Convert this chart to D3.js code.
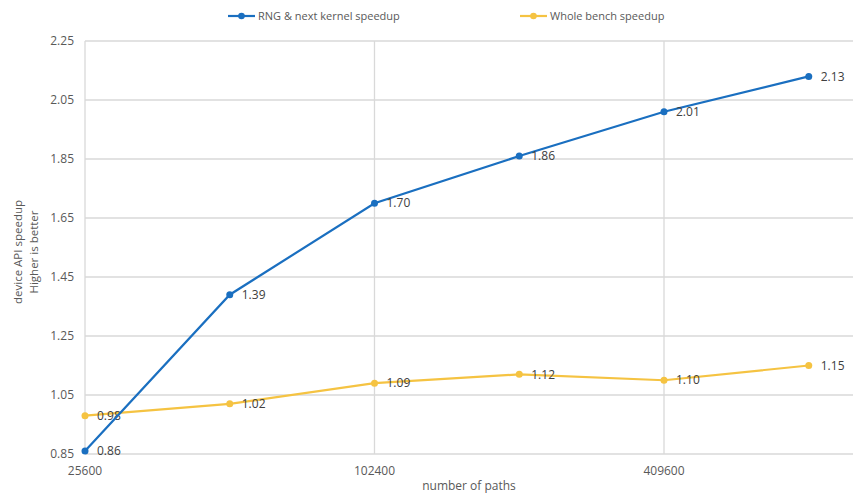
<!DOCTYPE html>
<html><head><meta charset="utf-8">
<script src="https://cdn.jsdelivr.net/npm/d3@7"></script>
<style>body{margin:0;background:#fff}svg{display:block}</style>
</head><body>
<svg id="c" width="854" height="494"></svg>
<script>
const paths = [25600, 51200, 102400, 204800, 409600, 819200];
const rngSpeedup = [0.86, 1.39, 1.70, 1.86, 2.01, 2.13];
const wholeSpeedup = [0.98, 1.02, 1.09, 1.12, 1.10, 1.15];
const xTicks = [25600, 102400, 409600];
const yTicks = [0.85, 1.05, 1.25, 1.45, 1.65, 1.85, 2.05, 2.25];
const seriesNames = ["RNG & next kernel speedup", "Whole bench speedup"];
const colors = ["#1a6fc0", "#f5c342"];

(function () {
const svg = d3.select("#c");
const font = "'Open Sans', 'Noto Sans', sans-serif";
const textCol = "#595959";
const gridCol = "#d9d9d9";
const pL = 85, pR = 853, pT = 41, pB = 454;

const x = d3.scaleLog().base(2).domain([25600, 819200]).range([pL, 808.75]);
const y = d3.scaleLinear().domain([0.85, 2.25]).range([pB, pT]);

// horizontal grid
svg.append("g").selectAll("line").data(yTicks).join("line")
  .attr("x1", pL).attr("x2", pR)
  .attr("y1", d => y(d)).attr("y2", d => y(d))
  .attr("stroke", gridCol).attr("stroke-width", 1.3);
// vertical grid
svg.append("g").selectAll("line").data(xTicks).join("line")
  .attr("x1", d => x(d)).attr("x2", d => x(d))
  .attr("y1", pT).attr("y2", pB)
  .attr("stroke", gridCol).attr("stroke-width", 1.3);

// y tick labels
svg.append("g").selectAll("text").data(yTicks).join("text")
  .attr("x", pL - 11).attr("y", d => y(d)).attr("dy", "0.35em")
  .attr("text-anchor", "end").attr("font-family", font).attr("font-size", 12)
  .attr("fill", textCol).text(d => d.toFixed(2));
// x tick labels
svg.append("g").selectAll("text").data(xTicks).join("text")
  .attr("x", d => x(d)).attr("y", 475)
  .attr("text-anchor", "middle").attr("font-family", font).attr("font-size", 12)
  .attr("fill", textCol).text(d => d);

// axis titles
svg.append("text").attr("x", (pL + pR) / 2).attr("y", 490)
  .attr("text-anchor", "middle").attr("font-family", font).attr("font-size", 12)
  .attr("fill", textCol).text("number of paths");
const yt = svg.append("text").attr("transform", "translate(0,252) rotate(-90)")
  .attr("text-anchor", "middle").attr("font-family", font).attr("font-size", 11.5)
  .attr("fill", textCol);
yt.append("tspan").attr("x", 0).attr("y", 22).text("device API speedup");
yt.append("tspan").attr("x", 0).attr("y", 38).text("Higher is better");

const data = [rngSpeedup, wholeSpeedup];
const line = d3.line().x((d, i) => x(paths[i])).y(d => y(d));

// draw yellow first then blue
[1, 0].forEach(s => {
  const g = svg.append("g");
  g.append("path").datum(data[s]).attr("d", line)
    .attr("fill", "none").attr("stroke", colors[s]).attr("stroke-width", 2.2);
  g.selectAll("circle").data(data[s]).join("circle")
    .attr("cx", (d, i) => x(paths[i])).attr("cy", d => y(d)).attr("r", 3.5)
    .attr("fill", colors[s]);
  g.selectAll("text").data(data[s]).join("text")
    .attr("x", (d, i) => x(paths[i]) + 12).attr("y", d => y(d)).attr("dy", "0.35em")
    .attr("font-family", font).attr("font-size", 12).attr("fill", "#404040")
    .text(d => d.toFixed(2));
});

// legend
const legX = [228, 520];
seriesNames.forEach((n, s) => {
  const g = svg.append("g").attr("transform", `translate(${legX[s]},16)`);
  g.append("line").attr("x1", 0).attr("x2", 27).attr("y1", 0).attr("y2", 0)
    .attr("stroke", colors[s]).attr("stroke-width", 2.2);
  g.append("circle").attr("cx", 13.5).attr("cy", 0).attr("r", 3.3).attr("fill", colors[s]);
  g.append("text").attr("x", 30).attr("y", 0).attr("dy", "0.35em")
    .attr("font-family", font).attr("font-size", 11).attr("fill", textCol).text(n);
});
})();
</script>
</body></html>
